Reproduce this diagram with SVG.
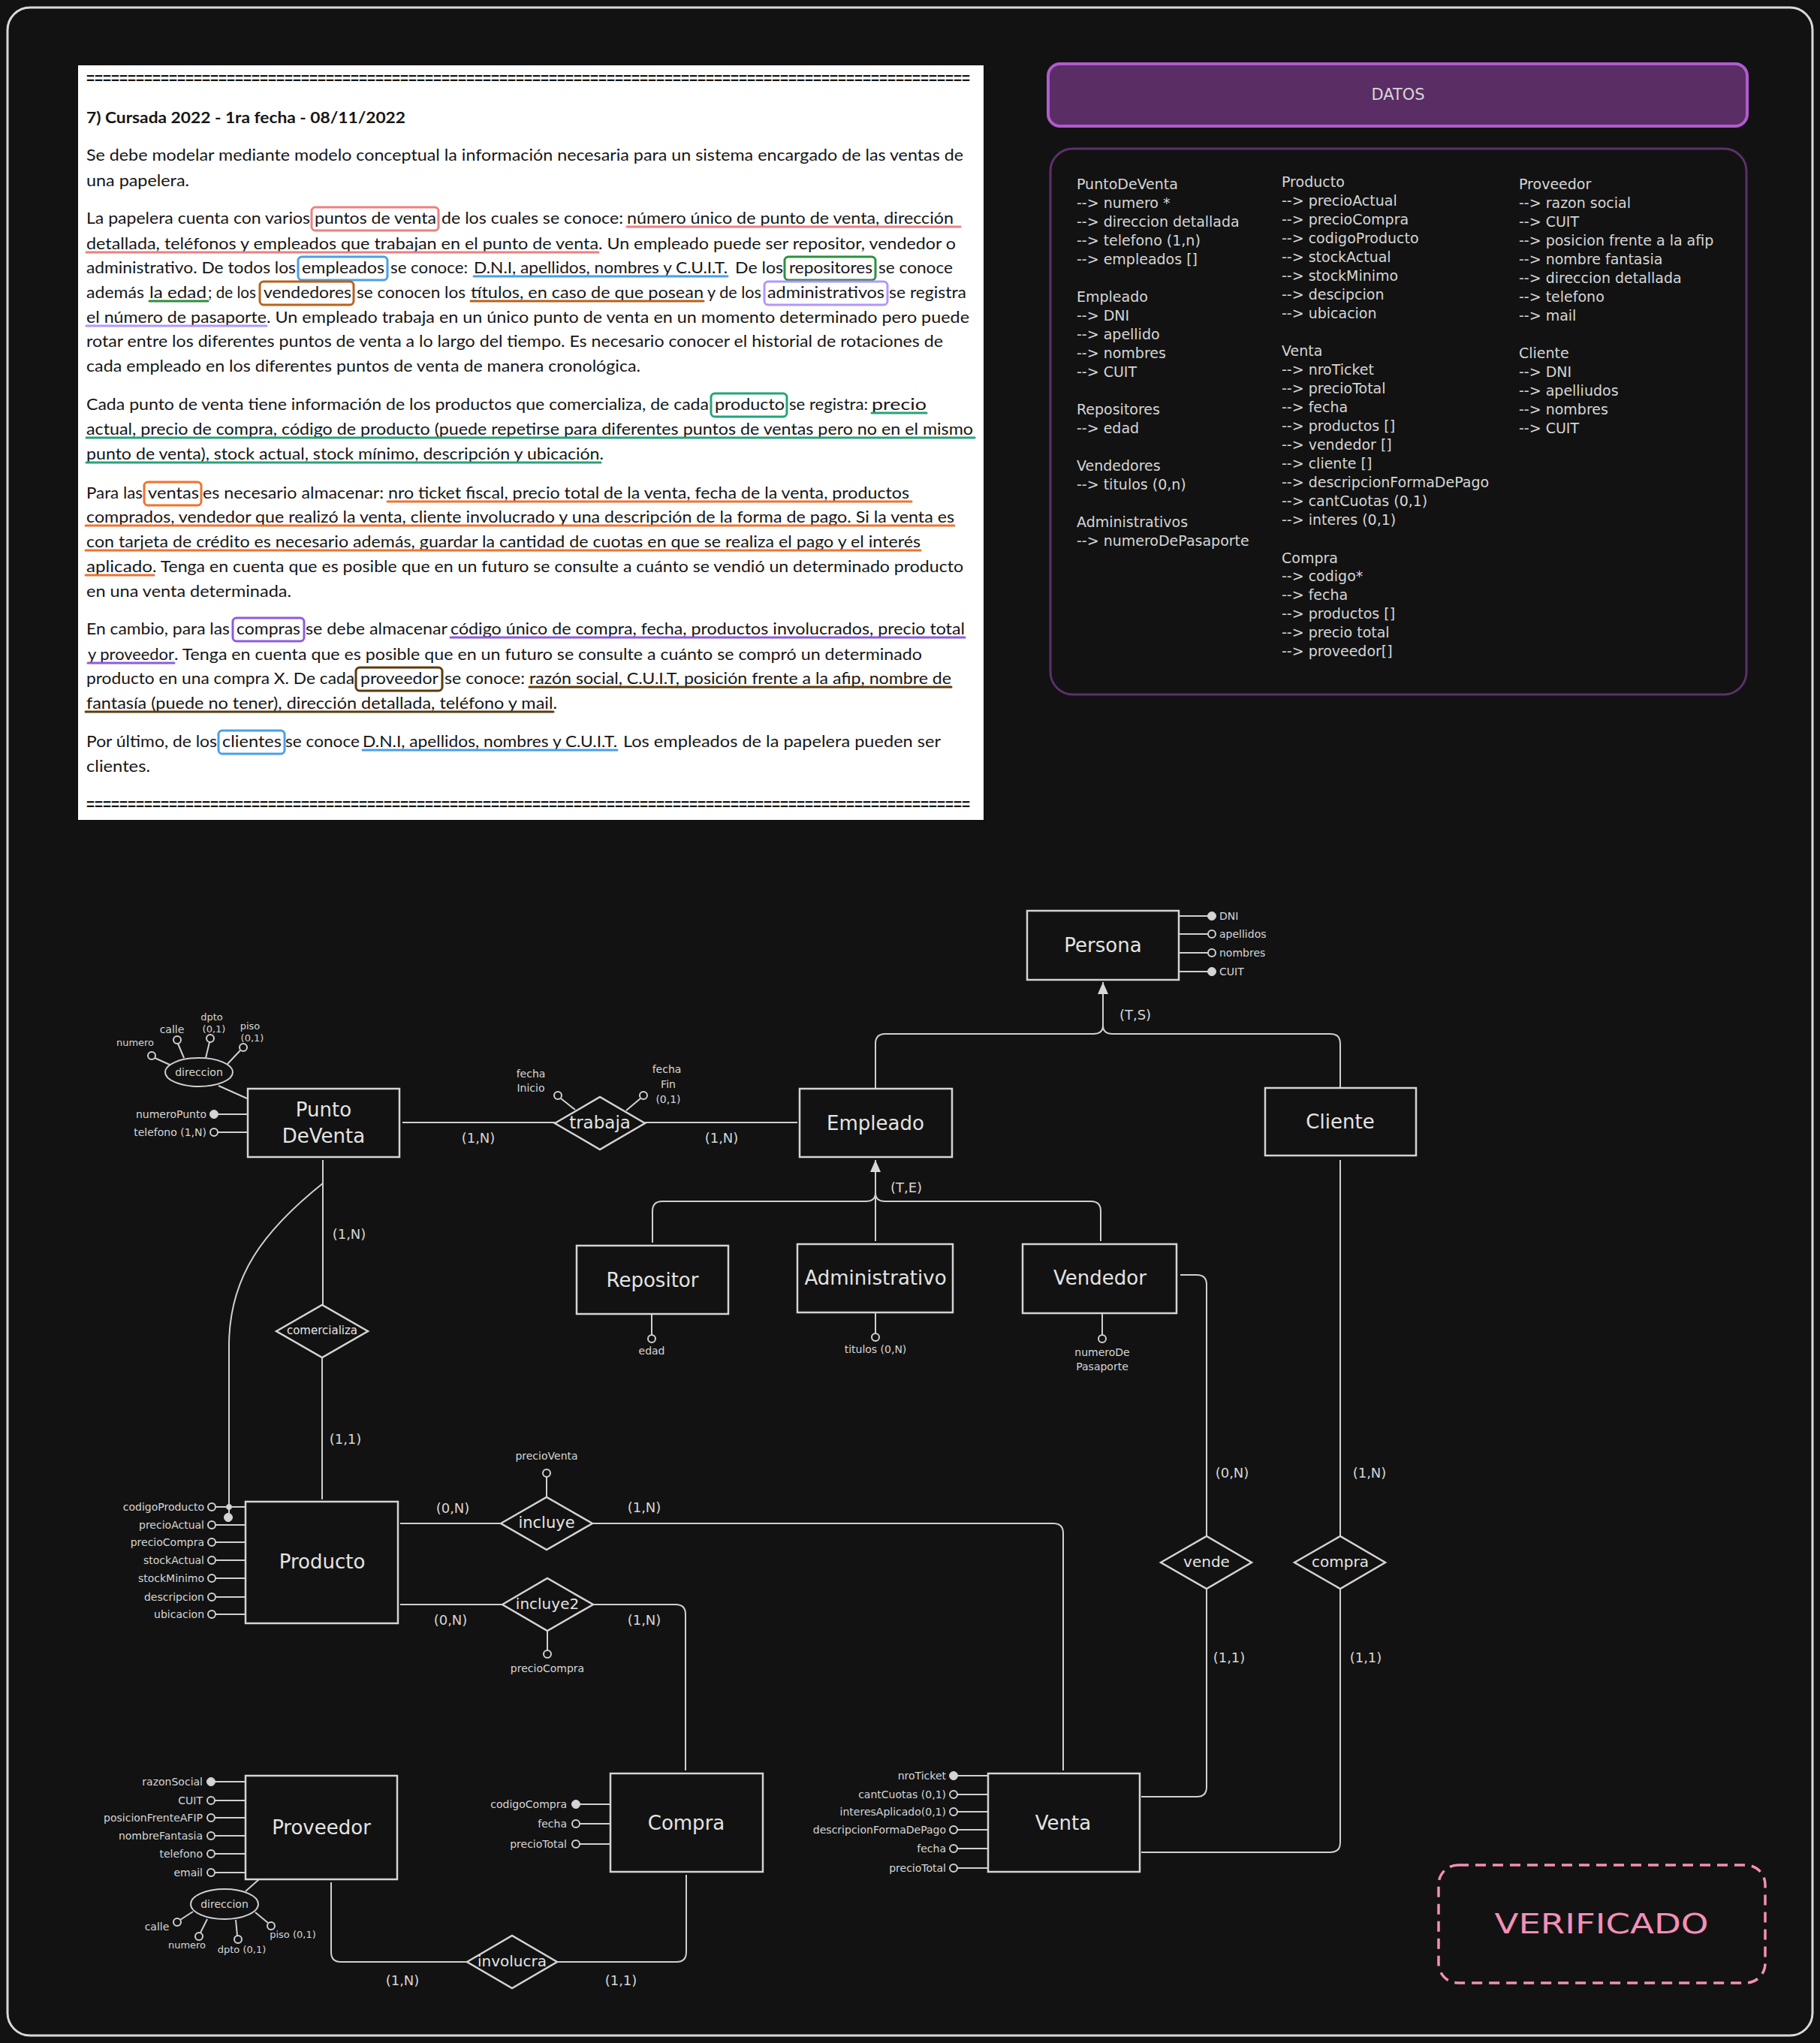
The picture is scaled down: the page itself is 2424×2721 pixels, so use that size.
<svg xmlns="http://www.w3.org/2000/svg" width="2424" height="2721" viewBox="0 0 2424 2721">
  <style>
    .p { font-family: Lato, "Liberation Sans", sans-serif; font-size: 21px; fill: #161616; }
    .pb { font-weight: bold; }
    .eq { font-family: "Liberation Sans", sans-serif; font-size: 20px; font-weight: bold; fill: #161616; }
    .hl { fill: none; stroke-width: 3; }
    .hand { font-family: "DejaVu Sans", sans-serif; fill: #d6d6d6; }
    .datos { font-size: 19px; }
    .box { fill: #121212; stroke: #d4d4d4; stroke-width: 2.5; }
    .nm { font-family: "DejaVu Sans", sans-serif; font-size: 26px; fill: #e4e4e4; text-anchor: middle; dominant-baseline: central; }
    .dia { fill: #121212; stroke: #d4d4d4; stroke-width: 2.5; }
    .rn { font-family: "DejaVu Sans", sans-serif; font-size: 20px; fill: #e4e4e4; text-anchor: middle; dominant-baseline: central; }
    .conn path { fill: none; stroke: #d0d0d0; stroke-width: 2; }
    .ao { fill: #121212; stroke: #d0d0d0; stroke-width: 2; }
    .ak { fill: #d4d4d4; stroke: #d4d4d4; stroke-width: 1; }
    .at { font-family: "DejaVu Sans", sans-serif; font-size: 14px; fill: #d6d6d6; dominant-baseline: central; text-anchor: start; }
    .at.ae { text-anchor: end; }
    .at.am { text-anchor: middle; }
    .at.sm { font-size: 13px; }
    .card { font-family: "DejaVu Sans", sans-serif; font-size: 18px; fill: #d6d6d6; text-anchor: middle; dominant-baseline: central; }
    .attrline { stroke: #d0d0d0; stroke-width: 2; }
    .cmp { fill: #121212; stroke: #d0d0d0; stroke-width: 2; }
  </style>
  <defs>
    <marker id="gen-arrow" viewBox="0 0 16 14" refX="16" refY="7" markerWidth="16" markerHeight="14" markerUnits="userSpaceOnUse" orient="auto">
      <path d="M0,0 L16,7 L0,14 z" fill="#d8d8d8"/>
    </marker>
  </defs>

  <!-- canvas and outer frame -->
  <rect x="0" y="0" width="2424" height="2721" fill="#121212"/>
  <rect x="10" y="10" width="2404" height="2701" rx="30" fill="none" stroke="#d9d9d9" stroke-width="3"/>

  <!-- exam statement sheet -->
  <g id="enunciado">
    <rect x="104" y="87" width="1206" height="1005" fill="#ffffff"/>
    <text class="eq" x="115" y="111" textLength="1177" lengthAdjust="spacingAndGlyphs">===========================================================================================================</text>
    <text class="p pb" x="115" y="164" textLength="425" lengthAdjust="spacingAndGlyphs">7)  Cursada 2022 - 1ra fecha - 08/11/2022</text>
    <text class="p" x="115" y="214" textLength="1168" lengthAdjust="spacingAndGlyphs">Se debe modelar mediante modelo conceptual la información necesaria para un sistema encargado de las ventas de</text>
    <text class="p" x="115" y="248" textLength="137" lengthAdjust="spacingAndGlyphs">una papelera.</text>

    <text class="p" x="115" y="298" textLength="298" lengthAdjust="spacingAndGlyphs">La papelera cuenta con varios</text>
    <text class="p" x="419" y="298" textLength="162" lengthAdjust="spacingAndGlyphs">puntos de venta</text>
    <text class="p" x="588" y="298" textLength="242" lengthAdjust="spacingAndGlyphs">de los cuales se conoce:</text>
    <text class="p" x="835" y="298" textLength="435" lengthAdjust="spacingAndGlyphs">número único de punto de venta, dirección</text>

    <text class="p" x="115" y="332" textLength="682" lengthAdjust="spacingAndGlyphs">detallada, teléfonos y empleados que trabajan en el punto de venta</text>
    <text class="p" x="797" y="332" textLength="476" lengthAdjust="spacingAndGlyphs">. Un empleado puede ser repositor, vendedor o</text>

    <text class="p" x="115" y="364" textLength="279" lengthAdjust="spacingAndGlyphs">administrativo. De todos los</text>
    <text class="p" x="402" y="364" textLength="110" lengthAdjust="spacingAndGlyphs">empleados</text>
    <text class="p" x="520" y="364" textLength="103" lengthAdjust="spacingAndGlyphs">se conoce:</text>
    <text class="p" x="631" y="364" textLength="338" lengthAdjust="spacingAndGlyphs">D.N.I, apellidos, nombres y C.U.I.T.</text>
    <text class="p" x="979" y="364" textLength="64" lengthAdjust="spacingAndGlyphs">De los</text>
    <text class="p" x="1051" y="364" textLength="111" lengthAdjust="spacingAndGlyphs">repositores</text>
    <text class="p" x="1170" y="364" textLength="99" lengthAdjust="spacingAndGlyphs">se conoce</text>

    <text class="p" x="115" y="397" textLength="77" lengthAdjust="spacingAndGlyphs">además</text>
    <text class="p" x="199" y="397" textLength="76" lengthAdjust="spacingAndGlyphs">la edad</text>
    <text class="p" x="277" y="397" textLength="64" lengthAdjust="spacingAndGlyphs">; de los</text>
    <text class="p" x="351" y="397" textLength="117" lengthAdjust="spacingAndGlyphs">vendedores</text>
    <text class="p" x="475" y="397" textLength="145" lengthAdjust="spacingAndGlyphs">se conocen los</text>
    <text class="p" x="627" y="397" textLength="310" lengthAdjust="spacingAndGlyphs">títulos, en caso de que posean</text>
    <text class="p" x="942" y="397" textLength="72" lengthAdjust="spacingAndGlyphs">y de los</text>
    <text class="p" x="1022" y="397" textLength="156" lengthAdjust="spacingAndGlyphs">administrativos</text>
    <text class="p" x="1184" y="397" textLength="103" lengthAdjust="spacingAndGlyphs">se registra</text>

    <text class="p" x="115" y="430" textLength="240" lengthAdjust="spacingAndGlyphs">el número de pasaporte</text>
    <text class="p" x="355" y="430" textLength="936" lengthAdjust="spacingAndGlyphs">. Un empleado trabaja en un único punto de venta en un momento determinado pero puede</text>
    <text class="p" x="115" y="462" textLength="1141" lengthAdjust="spacingAndGlyphs">rotar entre los diferentes puntos de venta a lo largo del tiempo. Es necesario conocer el historial de rotaciones de</text>
    <text class="p" x="115" y="495" textLength="738" lengthAdjust="spacingAndGlyphs">cada empleado en los diferentes puntos de venta de manera cronológica.</text>

    <text class="p" x="115" y="546" textLength="829" lengthAdjust="spacingAndGlyphs">Cada punto de venta tiene información de los productos que comercializa, de cada</text>
    <text class="p" x="952" y="546" textLength="93" lengthAdjust="spacingAndGlyphs">producto</text>
    <text class="p" x="1051" y="546" textLength="105" lengthAdjust="spacingAndGlyphs">se registra:</text>
    <text class="p" x="1161" y="546" textLength="73" lengthAdjust="spacingAndGlyphs">precio</text>
    <text class="p" x="115" y="579" textLength="1181" lengthAdjust="spacingAndGlyphs">actual, precio de compra, código de producto (puede repetirse para diferentes puntos de ventas pero no en el mismo</text>
    <text class="p" x="115" y="612" textLength="689" lengthAdjust="spacingAndGlyphs">punto de venta), stock actual, stock mínimo, descripción y ubicación.</text>

    <text class="p" x="115" y="664" textLength="75" lengthAdjust="spacingAndGlyphs">Para las</text>
    <text class="p" x="197" y="664" textLength="68" lengthAdjust="spacingAndGlyphs">ventas</text>
    <text class="p" x="270" y="664" textLength="241" lengthAdjust="spacingAndGlyphs">es necesario almacenar:</text>
    <text class="p" x="517" y="664" textLength="694" lengthAdjust="spacingAndGlyphs">nro ticket fiscal, precio total de la venta, fecha de la venta, productos</text>
    <text class="p" x="115" y="696" textLength="1156" lengthAdjust="spacingAndGlyphs">comprados, vendedor que realizó la venta, cliente involucrado y una descripción de la forma de pago. Si la venta es</text>
    <text class="p" x="115" y="729" textLength="1111" lengthAdjust="spacingAndGlyphs">con tarjeta de crédito es necesario además, guardar la cantidad de cuotas en que se realiza el pago y el interés</text>
    <text class="p" x="115" y="762" textLength="88" lengthAdjust="spacingAndGlyphs">aplicado</text>
    <text class="p" x="203" y="762" textLength="1080" lengthAdjust="spacingAndGlyphs">. Tenga en cuenta que es posible que en un futuro se consulte a cuánto se vendió un determinado producto</text>
    <text class="p" x="115" y="795" textLength="273" lengthAdjust="spacingAndGlyphs">en una venta determinada.</text>

    <text class="p" x="115" y="845" textLength="191" lengthAdjust="spacingAndGlyphs">En cambio, para las</text>
    <text class="p" x="315" y="845" textLength="85" lengthAdjust="spacingAndGlyphs">compras</text>
    <text class="p" x="407" y="845" textLength="189" lengthAdjust="spacingAndGlyphs">se debe almacenar</text>
    <text class="p" x="600" y="845" textLength="685" lengthAdjust="spacingAndGlyphs">código único de compra, fecha, productos involucrados, precio total</text>
    <text class="p" x="117" y="879" textLength="115" lengthAdjust="spacingAndGlyphs">y proveedor</text>
    <text class="p" x="232" y="879" textLength="996" lengthAdjust="spacingAndGlyphs">. Tenga en cuenta que es posible que en un futuro se consulte a cuánto se compró un determinado</text>
    <text class="p" x="115" y="911" textLength="357" lengthAdjust="spacingAndGlyphs">producto en una compra X. De cada</text>
    <text class="p" x="480" y="911" textLength="104" lengthAdjust="spacingAndGlyphs">proveedor</text>
    <text class="p" x="592" y="911" textLength="107" lengthAdjust="spacingAndGlyphs">se conoce:</text>
    <text class="p" x="705" y="911" textLength="562" lengthAdjust="spacingAndGlyphs">razón social, C.U.I.T, posición frente a la afip, nombre de</text>
    <text class="p" x="115" y="944" textLength="627" lengthAdjust="spacingAndGlyphs">fantasía (puede no tener), dirección detallada, teléfono y mail.</text>

    <text class="p" x="115" y="995" textLength="174" lengthAdjust="spacingAndGlyphs">Por último, de los</text>
    <text class="p" x="296" y="995" textLength="79" lengthAdjust="spacingAndGlyphs">clientes</text>
    <text class="p" x="380" y="995" textLength="99" lengthAdjust="spacingAndGlyphs">se conoce</text>
    <text class="p" x="483" y="995" textLength="339" lengthAdjust="spacingAndGlyphs">D.N.I, apellidos, nombres y C.U.I.T.</text>
    <text class="p" x="830" y="995" textLength="423" lengthAdjust="spacingAndGlyphs">Los empleados de la papelera pueden ser</text>
    <text class="p" x="115" y="1028" textLength="85" lengthAdjust="spacingAndGlyphs">clientes.</text>
    <text class="eq" x="115" y="1078" textLength="1177" lengthAdjust="spacingAndGlyphs">===========================================================================================================</text>

    <!-- keyword boxes -->
    <rect class="hl" x="415" y="276" width="169" height="31" rx="5" stroke="#f07f7f"/>
    <rect class="hl" x="397" y="342" width="119" height="31" rx="5" stroke="#4a9fe8"/>
    <rect class="hl" x="1045" y="342" width="121" height="31" rx="5" stroke="#2e8f3e"/>
    <rect class="hl" x="346" y="375" width="125" height="31" rx="5" stroke="#b8621b"/>
    <rect class="hl" x="1018" y="375" width="164" height="31" rx="5" stroke="#b197fc"/>
    <rect class="hl" x="947" y="524" width="101" height="31" rx="5" stroke="#26a37a"/>
    <rect class="hl" x="192" y="642" width="76" height="31" rx="5" stroke="#f2722d"/>
    <rect class="hl" x="310" y="823" width="95" height="31" rx="5" stroke="#8c5ce0"/>
    <rect class="hl" x="474" y="889" width="115" height="31" rx="5" stroke="#5c3b0c"/>
    <rect class="hl" x="291" y="973" width="88" height="31" rx="5" stroke="#4a9fe8"/>

    <!-- underlines -->
    <g stroke-width="3" stroke-linecap="round">
      <line x1="835" y1="302" x2="1279" y2="302" stroke="#f07f7f"/>
      <line x1="115" y1="336" x2="797" y2="336" stroke="#f07f7f"/>
      <line x1="631" y1="368" x2="969" y2="368" stroke="#4a9fe8"/>
      <line x1="199" y1="401" x2="277" y2="401" stroke="#2e8f3e"/>
      <line x1="627" y1="401" x2="937" y2="401" stroke="#b8621b"/>
      <line x1="115" y1="434" x2="355" y2="434" stroke="#b197fc"/>
      <line x1="1161" y1="550" x2="1234" y2="550" stroke="#26a37a"/>
      <line x1="115" y1="583" x2="1298" y2="583" stroke="#26a37a"/>
      <line x1="115" y1="616" x2="800" y2="616" stroke="#26a37a"/>
      <line x1="516" y1="668" x2="1214" y2="668" stroke="#f2722d"/>
      <line x1="114" y1="700" x2="1271" y2="700" stroke="#f2722d"/>
      <line x1="114" y1="733" x2="1226" y2="733" stroke="#f2722d"/>
      <line x1="114" y1="766" x2="205" y2="766" stroke="#f2722d"/>
      <line x1="600" y1="849" x2="1285" y2="849" stroke="#8c5ce0"/>
      <line x1="117" y1="883" x2="232" y2="883" stroke="#8c5ce0"/>
      <line x1="705" y1="915" x2="1267" y2="915" stroke="#5c3b0c"/>
      <line x1="114" y1="948" x2="737" y2="948" stroke="#5c3b0c"/>
      <line x1="483" y1="999" x2="822" y2="999" stroke="#4a9fe8"/>
    </g>
  </g>

  <!-- data dictionary panel -->
  <g id="datos-header">
    <rect x="1396" y="85" width="931" height="83" rx="16" fill="#5a2d64" stroke="#b15bd0" stroke-width="4"/>
    <text class="hand" x="1862" y="126" font-size="21" text-anchor="middle" dominant-baseline="central">DATOS</text>
  </g>
  <g id="datos-body">
    <rect x="1399" y="198" width="927" height="727" rx="30" fill="#121212" stroke="#5e2f6a" stroke-width="3"/>
    <text class="hand datos">
      <tspan x="1434" y="252">PuntoDeVenta</tspan>
      <tspan x="1434" y="277">--&gt; numero *</tspan>
      <tspan x="1434" y="302">--&gt; direccion detallada</tspan>
      <tspan x="1434" y="327">--&gt; telefono (1,n)</tspan>
      <tspan x="1434" y="352">--&gt; empleados []</tspan>
      <tspan x="1434" y="402">Empleado</tspan>
      <tspan x="1434" y="427">--&gt; DNI</tspan>
      <tspan x="1434" y="452">--&gt; apellido</tspan>
      <tspan x="1434" y="477">--&gt; nombres</tspan>
      <tspan x="1434" y="502">--&gt; CUIT</tspan>
      <tspan x="1434" y="552">Repositores</tspan>
      <tspan x="1434" y="577">--&gt; edad</tspan>
      <tspan x="1434" y="627">Vendedores</tspan>
      <tspan x="1434" y="652">--&gt; titulos (0,n)</tspan>
      <tspan x="1434" y="702">Administrativos</tspan>
      <tspan x="1434" y="727">--&gt; numeroDePasaporte</tspan>
    </text>
    <text class="hand datos">
      <tspan x="1707" y="249">Producto</tspan>
      <tspan x="1707" y="274">--&gt; precioActual</tspan>
      <tspan x="1707" y="299">--&gt; precioCompra</tspan>
      <tspan x="1707" y="324">--&gt; codigoProducto</tspan>
      <tspan x="1707" y="349">--&gt; stockActual</tspan>
      <tspan x="1707" y="374">--&gt; stockMinimo</tspan>
      <tspan x="1707" y="399">--&gt; descipcion</tspan>
      <tspan x="1707" y="424">--&gt; ubicacion</tspan>
      <tspan x="1707" y="474">Venta</tspan>
      <tspan x="1707" y="499">--&gt; nroTicket</tspan>
      <tspan x="1707" y="524">--&gt; precioTotal</tspan>
      <tspan x="1707" y="549">--&gt; fecha</tspan>
      <tspan x="1707" y="574">--&gt; productos []</tspan>
      <tspan x="1707" y="599">--&gt; vendedor []</tspan>
      <tspan x="1707" y="624">--&gt; cliente []</tspan>
      <tspan x="1707" y="649">--&gt; descripcionFormaDePago</tspan>
      <tspan x="1707" y="674">--&gt; cantCuotas (0,1)</tspan>
      <tspan x="1707" y="699">--&gt; interes (0,1)</tspan>
      <tspan x="1707" y="750">Compra</tspan>
      <tspan x="1707" y="774">--&gt; codigo*</tspan>
      <tspan x="1707" y="799">--&gt; fecha</tspan>
      <tspan x="1707" y="824">--&gt; productos []</tspan>
      <tspan x="1707" y="849">--&gt; precio total</tspan>
      <tspan x="1707" y="874">--&gt; proveedor[]</tspan>
    </text>
    <text class="hand datos">
      <tspan x="2023" y="252">Proveedor</tspan>
      <tspan x="2023" y="277">--&gt; razon social</tspan>
      <tspan x="2023" y="302">--&gt; CUIT</tspan>
      <tspan x="2023" y="327">--&gt; posicion frente a la afip</tspan>
      <tspan x="2023" y="352">--&gt; nombre fantasia</tspan>
      <tspan x="2023" y="377">--&gt; direccion detallada</tspan>
      <tspan x="2023" y="402">--&gt; telefono</tspan>
      <tspan x="2023" y="427">--&gt; mail</tspan>
      <tspan x="2023" y="477">Cliente</tspan>
      <tspan x="2023" y="502">--&gt; DNI</tspan>
      <tspan x="2023" y="527">--&gt; apelliudos</tspan>
      <tspan x="2023" y="552">--&gt; nombres</tspan>
      <tspan x="2023" y="577">--&gt; CUIT</tspan>
    </text>
  </g>

  <!-- ER connectors -->
  <g id="connectors" class="conn">
    <!-- Persona generalization (T,S) -->
    <path d="M1166,1449 V1390 Q1166,1377 1179,1377 H1456 Q1469,1377 1469,1366"/>
    <path d="M1785,1449 V1390 Q1785,1377 1772,1377 H1482 Q1469,1377 1469,1366"/>
    <path d="M1469,1366 V1308" marker-end="url(#gen-arrow)"/>
    <!-- Empleado generalization (T,E) -->
    <path d="M869,1655 V1613 Q869,1600 882,1600 H1153 Q1166,1600 1166,1589"/>
    <path d="M1466,1653 V1613 Q1466,1600 1453,1600 H1179 Q1166,1600 1166,1589"/>
    <path d="M1166,1653 V1545" marker-end="url(#gen-arrow)"/>
    <!-- trabaja -->
    <path d="M536,1495 H739"/>
    <path d="M859,1495 H1062"/>
    <!-- comercializa -->
    <path d="M430,1545 V1738"/>
    <path d="M429,1808 V1997"/>
    <path d="M430,1576 C350,1640 306,1700 305,1790 V2021"/>
    <!-- incluye / incluye2 -->
    <path d="M533,2029 H667"/>
    <path d="M789,2029 H1403 Q1416,2029 1416,2042 V2358"/>
    <path d="M533,2137 H669"/>
    <path d="M790,2137 H900 Q913,2137 913,2150 V2358"/>
    <!-- involucra -->
    <path d="M914,2497 V2600 Q914,2613 901,2613 H742"/>
    <path d="M622,2613 H454 Q441,2613 441,2600 V2507"/>
    <!-- vende -->
    <path d="M1572,1698 H1594 Q1607,1698 1607,1711 V2046"/>
    <path d="M1607,2116 V2380 Q1607,2393 1594,2393 H1520"/>
    <!-- compra -->
    <path d="M1785,1545 V2046"/>
    <path d="M1785,2116 V2454 Q1785,2467 1772,2467 H1520"/>
  </g>

  <!-- cardinalities -->
  <g id="cardinalidades">
    <text class="card" x="637" y="1515">(1,N)</text>
    <text class="card" x="961" y="1515">(1,N)</text>
    <text class="card" x="465" y="1643">(1,N)</text>
    <text class="card" x="460" y="1916">(1,1)</text>
    <text class="card" x="603" y="2008">(0,N)</text>
    <text class="card" x="858" y="2007">(1,N)</text>
    <text class="card" x="600" y="2157">(0,N)</text>
    <text class="card" x="858" y="2157">(1,N)</text>
    <text class="card" x="536" y="2637">(1,N)</text>
    <text class="card" x="827" y="2637">(1,1)</text>
    <text class="card" x="1641" y="1961">(0,N)</text>
    <text class="card" x="1637" y="2207">(1,1)</text>
    <text class="card" x="1824" y="1961">(1,N)</text>
    <text class="card" x="1819" y="2207">(1,1)</text>
    <text class="card" x="1512" y="1351" font-size="16">(T,S)</text>
    <text class="card" x="1207" y="1581" font-size="16">(T,E)</text>
  </g>

  <!-- entities -->
  <g id="persona">
    <rect class="box" x="1368" y="1213" width="202" height="92"/>
    <text class="nm" x="1469" y="1259">Persona</text>
    <line class="attrline" x1="1570" y1="1220" x2="1609" y2="1220"/>
    <line class="attrline" x1="1570" y1="1244" x2="1609" y2="1244"/>
    <line class="attrline" x1="1570" y1="1269" x2="1609" y2="1269"/>
    <line class="attrline" x1="1570" y1="1294" x2="1609" y2="1294"/>
    <circle class="ak" cx="1614" cy="1220" r="5.5"/>
    <circle class="ao" cx="1614" cy="1244" r="5"/>
    <circle class="ao" cx="1614" cy="1269" r="5"/>
    <circle class="ak" cx="1614" cy="1294" r="5.5"/>
    <text class="at" x="1624" y="1220">DNI</text>
    <text class="at" x="1624" y="1244">apellidos</text>
    <text class="at" x="1624" y="1269">nombres</text>
    <text class="at" x="1624" y="1294">CUIT</text>
  </g>

  <g id="punto-de-venta">
    <rect class="box" x="330" y="1450" width="202" height="91"/>
    <text class="nm" x="431" y="1478">Punto</text>
    <text class="nm" x="431" y="1513">DeVenta</text>
    <line class="attrline" x1="290" y1="1484" x2="330" y2="1484"/>
    <line class="attrline" x1="290" y1="1508" x2="330" y2="1508"/>
    <circle class="ak" cx="285" cy="1484" r="5.5"/>
    <circle class="ao" cx="285" cy="1508" r="5"/>
    <text class="at ae" x="275" y="1484">numeroPunto</text>
    <text class="at ae" x="275" y="1508">telefono (1,N)</text>
    <!-- compound address -->
    <line class="attrline" x1="291" y1="1446" x2="329" y2="1463"/>
    <ellipse class="cmp" cx="265" cy="1428" rx="45" ry="19"/>
    <text class="at am" x="265" y="1428">direccion</text>
    <line class="attrline" x1="206" y1="1409" x2="226" y2="1418"/>
    <line class="attrline" x1="237" y1="1390" x2="245" y2="1409"/>
    <line class="attrline" x1="279" y1="1388" x2="274" y2="1409"/>
    <line class="attrline" x1="320" y1="1399" x2="303" y2="1417"/>
    <circle class="ao" cx="202" cy="1406" r="5"/>
    <circle class="ao" cx="236" cy="1385" r="5"/>
    <circle class="ao" cx="280" cy="1383" r="5"/>
    <circle class="ao" cx="324" cy="1395" r="5"/>
    <text class="at am sm" x="180" y="1388">numero</text>
    <text class="at am" x="229" y="1371">calle</text>
    <text class="at am sm" x="282" y="1354">dpto</text>
    <text class="at am sm" x="285" y="1370">(0,1)</text>
    <text class="at am sm" x="333" y="1366">piso</text>
    <text class="at am sm" x="336" y="1382">(0,1)</text>
  </g>

  <g id="empleado">
    <rect class="box" x="1065" y="1450" width="203" height="91"/>
    <text class="nm" x="1166" y="1496">Empleado</text>
  </g>

  <g id="cliente">
    <rect class="box" x="1685" y="1449" width="201" height="90"/>
    <text class="nm" x="1785" y="1494">Cliente</text>
  </g>

  <g id="repositor">
    <rect class="box" x="768" y="1659" width="202" height="91"/>
    <text class="nm" x="869" y="1705">Repositor</text>
    <line class="attrline" x1="868" y1="1750" x2="868" y2="1778"/>
    <circle class="ao" cx="868" cy="1783" r="5"/>
    <text class="at am" x="868" y="1799">edad</text>
  </g>

  <g id="administrativo">
    <rect class="box" x="1062" y="1657" width="207" height="91"/>
    <text class="nm" x="1166" y="1702">Administrativo</text>
    <line class="attrline" x1="1166" y1="1748" x2="1166" y2="1776"/>
    <circle class="ao" cx="1166" cy="1781" r="5"/>
    <text class="at am" x="1166" y="1797">titulos (0,N)</text>
  </g>

  <g id="vendedor">
    <rect class="box" x="1362" y="1657" width="205" height="92"/>
    <text class="nm" x="1465" y="1702">Vendedor</text>
    <line class="attrline" x1="1468" y1="1749" x2="1468" y2="1778"/>
    <circle class="ao" cx="1468" cy="1783" r="5"/>
    <text class="at am" x="1468" y="1801">numeroDe</text>
    <text class="at am" x="1468" y="1820">Pasaporte</text>
  </g>

  <g id="producto">
    <rect class="box" x="327" y="2000" width="203" height="162"/>
    <text class="nm" x="429" y="2080">Producto</text>
    <line class="attrline" x1="287" y1="2007" x2="327" y2="2007"/>
    <line class="attrline" x1="287" y1="2031" x2="327" y2="2031"/>
    <line class="attrline" x1="287" y1="2054" x2="327" y2="2054"/>
    <line class="attrline" x1="287" y1="2078" x2="327" y2="2078"/>
    <line class="attrline" x1="287" y1="2102" x2="327" y2="2102"/>
    <line class="attrline" x1="287" y1="2127" x2="327" y2="2127"/>
    <line class="attrline" x1="287" y1="2150" x2="327" y2="2150"/>
    <circle class="ao" cx="282" cy="2007" r="5"/>
    <circle class="ao" cx="282" cy="2031" r="5"/>
    <circle class="ao" cx="282" cy="2054" r="5"/>
    <circle class="ao" cx="282" cy="2078" r="5"/>
    <circle class="ao" cx="282" cy="2102" r="5"/>
    <circle class="ao" cx="282" cy="2127" r="5"/>
    <circle class="ao" cx="282" cy="2150" r="5"/>
    <!-- compound identifier with the point of sale -->
    <circle class="ak" cx="305" cy="2007" r="3.5"/>
    <circle class="ak" cx="304" cy="2021" r="5.5"/>
    <text class="at ae" x="272" y="2007">codigoProducto</text>
    <text class="at ae" x="272" y="2031">precioActual</text>
    <text class="at ae" x="272" y="2054">precioCompra</text>
    <text class="at ae" x="272" y="2078">stockActual</text>
    <text class="at ae" x="272" y="2102">stockMinimo</text>
    <text class="at ae" x="272" y="2127">descripcion</text>
    <text class="at ae" x="272" y="2150">ubicacion</text>
  </g>

  <g id="proveedor">
    <rect class="box" x="327" y="2365" width="202" height="138"/>
    <text class="nm" x="428" y="2434">Proveedor</text>
    <line class="attrline" x1="286" y1="2373" x2="327" y2="2373"/>
    <line class="attrline" x1="286" y1="2398" x2="327" y2="2398"/>
    <line class="attrline" x1="286" y1="2421" x2="327" y2="2421"/>
    <line class="attrline" x1="286" y1="2445" x2="327" y2="2445"/>
    <line class="attrline" x1="286" y1="2469" x2="327" y2="2469"/>
    <line class="attrline" x1="286" y1="2494" x2="327" y2="2494"/>
    <circle class="ak" cx="281" cy="2373" r="5.5"/>
    <circle class="ao" cx="281" cy="2398" r="5"/>
    <circle class="ao" cx="281" cy="2421" r="5"/>
    <circle class="ao" cx="281" cy="2445" r="5"/>
    <circle class="ao" cx="281" cy="2469" r="5"/>
    <circle class="ao" cx="281" cy="2494" r="5"/>
    <text class="at ae" x="270" y="2373">razonSocial</text>
    <text class="at ae" x="270" y="2398">CUIT</text>
    <text class="at ae" x="270" y="2421">posicionFrenteAFIP</text>
    <text class="at ae" x="270" y="2445">nombreFantasia</text>
    <text class="at ae" x="270" y="2469">telefono</text>
    <text class="at ae" x="270" y="2494">email</text>
    <!-- compound address -->
    <line class="attrline" x1="327" y1="2519" x2="345" y2="2503"/>
    <ellipse class="cmp" cx="299" cy="2536" rx="45" ry="20"/>
    <text class="at am" x="299" y="2536">direccion</text>
    <line class="attrline" x1="240" y1="2557" x2="257" y2="2546"/>
    <line class="attrline" x1="267" y1="2574" x2="276" y2="2556"/>
    <line class="attrline" x1="316" y1="2578" x2="314" y2="2557"/>
    <line class="attrline" x1="357" y1="2561" x2="340" y2="2547"/>
    <circle class="ao" cx="236" cy="2560" r="5"/>
    <circle class="ao" cx="265" cy="2579" r="5"/>
    <circle class="ao" cx="317" cy="2583" r="5"/>
    <circle class="ao" cx="361" cy="2565" r="5"/>
    <text class="at am" x="209" y="2566">calle</text>
    <text class="at am sm" x="249" y="2590">numero</text>
    <text class="at am sm" x="322" y="2596">dpto (0,1)</text>
    <text class="at am sm" x="390" y="2576">piso (0,1)</text>
  </g>

  <g id="compra-ent">
    <rect class="box" x="813" y="2362" width="203" height="131"/>
    <text class="nm" x="914" y="2428">Compra</text>
    <line class="attrline" x1="772" y1="2403" x2="813" y2="2403"/>
    <line class="attrline" x1="772" y1="2429" x2="813" y2="2429"/>
    <line class="attrline" x1="772" y1="2456" x2="813" y2="2456"/>
    <circle class="ak" cx="767" cy="2403" r="5.5"/>
    <circle class="ao" cx="767" cy="2429" r="5"/>
    <circle class="ao" cx="767" cy="2456" r="5"/>
    <text class="at ae" x="755" y="2403">codigoCompra</text>
    <text class="at ae" x="755" y="2429">fecha</text>
    <text class="at ae" x="755" y="2456">precioTotal</text>
  </g>

  <g id="venta">
    <rect class="box" x="1316" y="2362" width="202" height="131"/>
    <text class="nm" x="1416" y="2428">Venta</text>
    <line class="attrline" x1="1275" y1="2365" x2="1316" y2="2365"/>
    <line class="attrline" x1="1275" y1="2390" x2="1316" y2="2390"/>
    <line class="attrline" x1="1275" y1="2413" x2="1316" y2="2413"/>
    <line class="attrline" x1="1275" y1="2437" x2="1316" y2="2437"/>
    <line class="attrline" x1="1275" y1="2462" x2="1316" y2="2462"/>
    <line class="attrline" x1="1275" y1="2488" x2="1316" y2="2488"/>
    <circle class="ak" cx="1270" cy="2365" r="5.5"/>
    <circle class="ao" cx="1270" cy="2390" r="5"/>
    <circle class="ao" cx="1270" cy="2413" r="5"/>
    <circle class="ao" cx="1270" cy="2437" r="5"/>
    <circle class="ao" cx="1270" cy="2462" r="5"/>
    <circle class="ao" cx="1270" cy="2488" r="5"/>
    <text class="at ae" x="1260" y="2365">nroTicket</text>
    <text class="at ae" x="1260" y="2390">cantCuotas (0,1)</text>
    <text class="at ae" x="1260" y="2413">interesAplicado(0,1)</text>
    <text class="at ae" x="1260" y="2437">descripcionFormaDePago</text>
    <text class="at ae" x="1260" y="2462">fecha</text>
    <text class="at ae" x="1260" y="2488">precioTotal</text>
  </g>

  <!-- relationships -->
  <g id="trabaja">
    <line class="attrline" x1="747" y1="1463" x2="766" y2="1478"/>
    <line class="attrline" x1="853" y1="1463" x2="834" y2="1479"/>
    <circle class="ao" cx="743" cy="1459" r="5"/>
    <circle class="ao" cx="857" cy="1459" r="5"/>
    <text class="at am" x="707" y="1430">fecha</text>
    <text class="at am" x="707" y="1449">Inicio</text>
    <text class="at am" x="888" y="1424">fecha</text>
    <text class="at am" x="890" y="1444">Fin</text>
    <text class="at am" x="890" y="1464">(0,1)</text>
    <polygon class="dia" points="739,1496 799,1461 859,1496 799,1531"/>
    <text class="rn" x="799" y="1495" style="font-size:23px">trabaja</text>
  </g>

  <g id="comercializa">
    <polygon class="dia" points="368,1773 429,1738 490,1773 429,1808"/>
    <text class="rn" x="429" y="1772" style="font-size:15px">comercializa</text>
  </g>

  <g id="incluye">
    <line class="attrline" x1="728" y1="1967" x2="728" y2="1994"/>
    <circle class="ao" cx="728" cy="1962" r="5"/>
    <text class="at am" x="728" y="1939">precioVenta</text>
    <polygon class="dia" points="667,2029 728,1994 789,2029 728,2064"/>
    <text class="rn" x="728" y="2028" style="font-size:21px">incluye</text>
  </g>

  <g id="incluye2">
    <line class="attrline" x1="729" y1="2172" x2="729" y2="2198"/>
    <circle class="ao" cx="729" cy="2203" r="5"/>
    <text class="at am" x="729" y="2222">precioCompra</text>
    <polygon class="dia" points="669,2137 729,2102 790,2137 729,2172"/>
    <text class="rn" x="729" y="2136">incluye2</text>
  </g>

  <g id="involucra">
    <polygon class="dia" points="622,2613 682,2578 742,2613 682,2648"/>
    <text class="rn" x="682" y="2612">involucra</text>
  </g>

  <g id="vende">
    <polygon class="dia" points="1546,2081 1607,2046 1667,2081 1607,2116"/>
    <text class="rn" x="1607" y="2080">vende</text>
  </g>

  <g id="compra-rel">
    <polygon class="dia" points="1724,2081 1785,2046 1845,2081 1785,2116"/>
    <text class="rn" x="1785" y="2080">compra</text>
  </g>

  <!-- review stamp -->
  <g id="verificado">
    <rect x="1916" y="2484" width="435" height="157" rx="26" fill="none" stroke="#f48fb8" stroke-width="3.5" stroke-dasharray="14 9"/>
    <text x="2133" y="2562" font-family="'DejaVu Sans', sans-serif" font-size="38" fill="#f48fb8" text-anchor="middle" dominant-baseline="central" textLength="285" lengthAdjust="spacingAndGlyphs">VERIFICADO</text>
  </g>
</svg>
